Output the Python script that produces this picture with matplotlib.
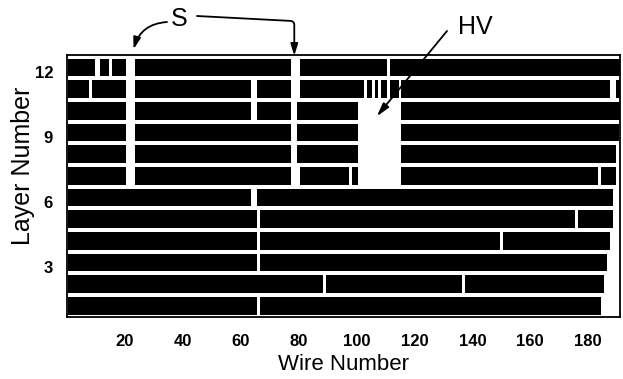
import matplotlib
matplotlib.use("Agg")
import matplotlib.pyplot as plt
from matplotlib.transforms import ScaledTranslation

plt.rcParams['font.family'] = ['Liberation Sans', 'DejaVu Sans']

# hit wires per layer, as (first wire, last wire) runs
layers = list(range(1, 13))
hit_runs = {
    1: [(1, 65), (67, 184)],
    2: [(1, 88), (90, 136), (138, 185)],
    3: [(1, 65), (67, 186)],
    4: [(1, 65), (67, 149), (151, 187)],
    5: [(1, 65), (67, 175), (177, 188)],
    6: [(1, 63), (66, 188)],
    7: [(1, 20), (24, 77), (81, 97), (99, 100), (116, 183), (185, 189)],
    8: [(1, 20), (24, 77), (80, 100), (116, 189)],
    9: [(1, 20), (24, 77), (80, 100), (116, 190)],
    10: [(1, 20), (24, 63), (66, 77), (80, 100), (116, 191)],
    11: [(1, 7), (9, 20), (24, 63), (66, 77), (81, 102), (104, 105), (107, 107),
         (109, 110), (112, 114), (116, 187), (190, 191)],
    12: [(1, 9), (12, 14), (16, 20), (24, 77), (81, 110), (112, 191)],
}

x_ticks = [20, 40, 60, 80, 100, 120, 140, 160, 180]
y_ticks = [3, 6, 9, 12]

W, H = 623, 379
fig = plt.figure(figsize=(W / 100, H / 100), dpi=100)
ax = fig.add_axes([67 / W, 1 - 317 / H, 553 / W, 262 / H])

bar_h = 0.82
for layer in layers:
    runs = [(s - 0.5, e - s + 1) for s, e in hit_runs[layer]]
    ax.broken_barh(runs, (layer - bar_h / 2, bar_h), facecolors='black', edgecolor='none')

ax.set_xlim(0, 191)
ax.set_ylim(0.49, 12.58)
ax.set_xticks(x_ticks)
ax.set_yticks(y_ticks)
ax.tick_params(axis='both', length=0, labelsize=12)
ax.tick_params(axis='x', pad=12)
ax.tick_params(axis='y', pad=10)
for lbl in ax.get_xticklabels() + ax.get_yticklabels():
    lbl.set_fontweight('bold')
# y labels sit a little below their rows in the original
shift = ScaledTranslation(0, -3 / 72, fig.dpi_scale_trans)
for lbl in ax.get_yticklabels():
    lbl.set_transform(lbl.get_transform() + shift)
for sp in ax.spines.values():
    sp.set_linewidth(1.3)

ax.set_xlabel('Wire Number', fontsize=16, labelpad=4)
ax.set_ylabel('Layer Number', fontsize=18)
ax.yaxis.set_label_coords(-0.058, 0.576)


def fig_xy(px, py):
    return (px / W, 1 - py / H)


# "S" marks the two gaps in the upper layers
fig.text(*fig_xy(179, 19), 'S', fontsize=18, ha='center', va='center')
ax.annotate('', xy=(23, 12.85), xycoords='data',
            xytext=fig_xy(167, 22), textcoords='figure fraction',
            annotation_clip=False,
            arrowprops=dict(arrowstyle='-|>,head_length=0.7,head_width=0.22',
                            color='black', lw=1.3, shrinkA=0, shrinkB=0,
                            connectionstyle='arc3,rad=0.35'))
ax.annotate('', xy=(78.5, 12.55), xycoords='data',
            xytext=fig_xy(197, 16), textcoords='figure fraction',
            annotation_clip=False,
            arrowprops=dict(arrowstyle='-|>,head_length=0.7,head_width=0.22',
                            color='black', lw=1.3, shrinkA=0, shrinkB=0,
                            connectionstyle='angle,angleA=-3,angleB=90,rad=4'))

# "HV" points into the dead region of layers 7-10
fig.text(*fig_xy(475, 27), 'HV', fontsize=18, ha='center', va='center')
ax.annotate('', xy=(107, 9.75), xycoords='data',
            xytext=fig_xy(447, 31), textcoords='figure fraction',
            annotation_clip=False,
            arrowprops=dict(arrowstyle='-|>,head_length=0.8,head_width=0.22',
                            color='black', lw=1.3, shrinkA=0, shrinkB=0))

fig.savefig('out.png', dpi=100)
